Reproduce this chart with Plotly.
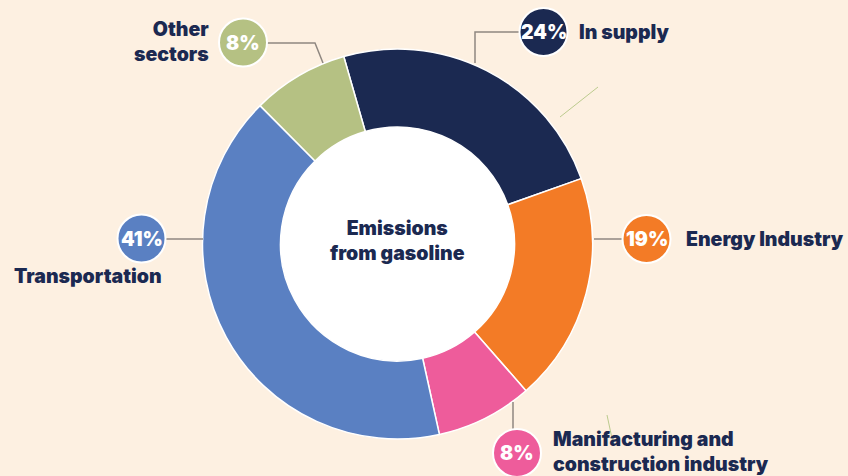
import plotly.graph_objects as go

# ---- data -------------------------------------------------------------
categories = [
    "In supply",
    "Energy Industry",
    "Manifacturing and construction industry",
    "Transportation",
    "Other sectors",
]
shares = [24, 19, 8, 41, 8]
label_lines = [
    "In supply",
    "Energy Industry",
    "Manifacturing and<br>construction industry",
    "Transportation",
    "Other<br>sectors",
]
center_title = "Emissions<br>from gasoline"

# ---- styling / geometry ----------------------------------------------
W, H = 848, 476
BG = "#FDF0E1"
NAVY = "#1B2951"
LEADER = "#8F8780"
slice_colors = ["#1B2951", "#F37B26", "#EE5C9B", "#5A80C2", "#B5C183"]
FONT = "Inter, Roboto, Arial, sans-serif"
LABEL_SIZE = 19.5
PCT_SIZE = 19.5

CX, CY, R_OUT, R_IN = 397.5, 244, 195, 117
BUBBLE_R = 24


def px(x):
    return x / W


def py(y):
    return 1 - y / H


# callout placement per category (pixel positions in the page)
placement = {
    "In supply": dict(bubble=(543.5, 32), leader=[(520, 32), (475, 32), (475, 63)],
                      text_at=(577, 32), side="left"),
    "Energy Industry": dict(bubble=(646.5, 239), leader=[(594, 239), (622, 239)],
                            text_at=(684, 239), side="left"),
    "Manifacturing and construction industry": dict(
        bubble=(517, 453), leader=[(513, 402), (513, 429)],
        text_at=(551, 451), side="left"),
    "Transportation": dict(bubble=(141.5, 238.5), leader=[(165, 239), (203, 239)],
                           text_at=(12, 276), side="left"),
    "Other sectors": dict(bubble=(243, 42.5), leader=[(267, 43), (315, 43), (323, 63)],
                          text_at=(211, 41), side="right"),
}

fig = go.Figure(
    go.Pie(
        labels=categories,
        values=shares,
        sort=False,
        direction="clockwise",
        rotation=-16,
        hole=R_IN / R_OUT,
        marker=dict(colors=slice_colors, line=dict(color="white", width=1.5)),
        textinfo="none",
        hoverinfo="label+percent",
        showlegend=False,
        domain=dict(x=[px(CX - R_OUT), px(CX + R_OUT)],
                    y=[py(CY + R_OUT), py(CY - R_OUT)]),
    )
)

shapes = []
annotations = []

# white disc inside the ring
shapes.append(dict(
    type="circle", xref="paper", yref="paper", layer="below",
    x0=px(CX - R_IN - 2), x1=px(CX + R_IN + 2),
    y0=py(CY + R_IN + 2), y1=py(CY - R_IN - 2),
    fillcolor="white", line=dict(width=0),
))

# faint decorative ticks
for (x0, y0), (x1, y1) in [((560, 117), (598, 87)), ((607, 415), (613, 443))]:
    shapes.append(dict(type="line", xref="paper", yref="paper",
                       x0=px(x0), y0=py(y0), x1=px(x1), y1=py(y1),
                       line=dict(color="#BCCB8E", width=1)))

for cat, val, color, txt in zip(categories, shares, slice_colors, label_lines):
    p = placement[cat]
    pts = p["leader"]
    path = "M " + " L ".join(f"{px(x):.5f},{py(y):.5f}" for x, y in pts)
    shapes.append(dict(type="path", xref="paper", yref="paper", path=path,
                       line=dict(color=LEADER, width=1.5), layer="above"))
    bx, by = p["bubble"]
    shapes.append(dict(
        type="circle", xref="paper", yref="paper", layer="above",
        x0=px(bx - BUBBLE_R), x1=px(bx + BUBBLE_R),
        y0=py(by + BUBBLE_R), y1=py(by - BUBBLE_R),
        fillcolor=color, line=dict(color="white", width=2),
    ))
    annotations.append(dict(
        x=px(bx), y=py(by), xref="paper", yref="paper", showarrow=False,
        text=f"{val}%", xanchor="center", yanchor="middle",
        font=dict(family=FONT, size=PCT_SIZE, color="white", weight=900),
    ))
    tx, ty = p["text_at"]
    annotations.append(dict(
        x=px(tx), y=py(ty), xref="paper", yref="paper", showarrow=False,
        text=txt, xanchor=p["side"], yanchor="middle", align=p["side"],
        font=dict(family=FONT, size=LABEL_SIZE, color=NAVY, weight=900),
    ))

annotations.append(dict(
    x=px(CX), y=py(240), xref="paper", yref="paper", showarrow=False,
    text=center_title, xanchor="center", yanchor="middle", align="center",
    font=dict(family=FONT, size=LABEL_SIZE, color=NAVY, weight=900),
))

fig.update_layout(
    width=W, height=H,
    margin=dict(l=0, r=0, t=0, b=0),
    paper_bgcolor=BG, plot_bgcolor=BG,
    shapes=shapes, annotations=annotations,
)

fig.write_html("out.html")
